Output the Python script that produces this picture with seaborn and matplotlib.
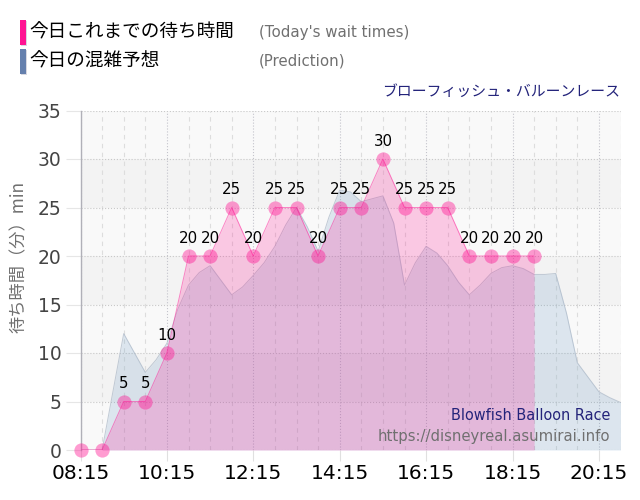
import matplotlib
matplotlib.use("Agg")
import matplotlib.pyplot as plt
import seaborn as sns
import pandas as pd
from matplotlib.patches import Rectangle
from matplotlib.ticker import FixedLocator

sns.set_theme(style="white")
plt.rcParams['font.family'] = ['DejaVu Sans', 'Noto Sans CJK JP']
JP = ['Noto Sans CJK JP', 'DejaVu Sans']

wait_times = ["08:15","08:45","09:15","09:45","10:15","10:45","11:15","11:45","12:15","12:45","13:15",
              "13:45","14:15","14:45","15:15","15:45","16:15","16:45","17:15","17:45","18:15","18:45"]
wait_values = [0,0,5,5,10,20,20,25,20,25,25,20,25,25,30,25,25,25,20,20,20,20]
wait_labels = ["","","5","5","10","20","20","25","20","25","25","20","25","25","30","25","25","25","20","20","20","20"]

pred_times = ["08:15","08:30","08:45","09:00","09:15","09:30","09:45","10:00","10:15","10:30","10:45","11:00",
              "11:15","11:30","11:45","12:00","12:15","12:30","12:45","13:00","13:15","13:30","13:45","14:00",
              "14:15","14:30","14:45","15:00","15:15","15:30","15:45","16:00","16:15","16:30","16:45","17:00",
              "17:15","17:30","17:45","18:00","18:15","18:30","18:45","19:00","19:15","19:30","19:45","20:00",
              "20:15","20:30","20:45"]
pred_values = [0,0,0,6,12,10,8,9.3,11,14.5,17,18.3,
               19,17.5,16,16.8,18,19.3,21,23.2,25,23,20.5,24,
               26.8,26.6,25.6,25.9,26.2,23.4,17,19.3,21,20.3,19,17.3,
               16,17,18.2,18.8,19,18.7,18.1,18.1,18.2,14.1,9,7.5,
               6,5.4,4.9]

x_ticks = ["08:15","10:15","12:15","14:15","16:15","18:15","20:15"]
y_ticks = [0,5,10,15,20,25,30,35]
band_starts = [5,15,25]

legend_jp = ["今日これまでの待ち時間", "今日の混雑予想"]
legend_en = ["(Today's wait times)", "(Prediction)"]
title_jp = "ブローフィッシュ・バルーンレース"
title_en = "Blowfish Balloon Race"
url = "https://disneyreal.asumirai.info"
ylabel = "待ち時間（分）min"

PINK = "#ff1493"
BLUE = "#5f93c0"
NAVY = "#23237a"

def hrs(t):
    h, m = t.split(":")
    return int(h) + int(m) / 60

wait = pd.DataFrame({"t": [hrs(t) for t in wait_times], "v": wait_values})
pred = pd.DataFrame({"t": [hrs(t) for t in pred_times], "v": pred_values})

fig = plt.figure(figsize=(6.4, 5.0), dpi=100)
ax = fig.add_axes([80.5/640, 50/500, 540/640, 339.5/500])
ax.set_xlim(hrs("08:15"), hrs("20:45"))
ax.set_ylim(0, 35)
ax.set_facecolor("#f9f9f9")

for lo in band_starts:
    ax.axhspan(lo, lo + 5, color="#f3f3f3", lw=0, zorder=0)

ax.set_xticks([hrs(t) for t in x_ticks])
ax.set_xticklabels(x_ticks, fontsize=14.5, color="black")
ax.xaxis.set_minor_locator(FixedLocator([hrs("08:15") + i * 0.5 for i in range(26)]))
ax.set_yticks(y_ticks)
ax.set_yticklabels([str(v) for v in y_ticks], fontsize=13.5, color="#444444")
ax.tick_params(axis="x", which="major", length=8, width=0.8, color="#e0e0e0", pad=2, bottom=True)
ax.tick_params(axis="x", which="minor", length=0)
ax.tick_params(axis="y", which="major", length=11, width=0.8, color="#e6e6e6", pad=2.5, left=True)
ax.grid(True, axis="y", which="major", ls=":", lw=0.8, color="#c8c8c8", zorder=1)
ax.grid(True, axis="x", which="minor", ls=(0, (4, 4)), lw=0.8, color="#dddddd", zorder=1)
ax.grid(True, axis="x", which="major", ls=":", lw=0.8, color="#c4c4cc", zorder=1)
ax.set_axisbelow(True)

for s in ["top", "right", "bottom"]:
    ax.spines[s].set_visible(False)
ax.spines["left"].set_color("#b0b0b8")
ax.spines["left"].set_linewidth(1)

ax.fill_between(pred["t"], pred["v"], 0, color=BLUE, alpha=0.19, lw=0, zorder=2)
sns.lineplot(data=pred, x="t", y="v", color="#a9b6c6", lw=0.7, alpha=0.7, ax=ax, zorder=3, errorbar=None)
ax.fill_between(wait["t"], wait["v"], 0, color=PINK, alpha=0.21, lw=0, zorder=4)
sns.lineplot(data=wait, x="t", y="v", color=PINK, lw=0.7, alpha=0.5, ax=ax, zorder=5, errorbar=None)
sns.scatterplot(data=wait, x="t", y="v", color=PINK, s=105, alpha=0.42, linewidth=0, ax=ax, zorder=6, clip_on=False)

for t, v, lab in zip(wait["t"], wait["v"], wait_labels):
    if lab:
        ax.annotate(lab, (t, v), xytext=(0, 7.5), textcoords="offset points", ha="center", va="bottom",
                    fontsize=10.8, color="black", zorder=7)

ax.set_xlabel("")
ax.set_ylabel("")

fig.text(19/640, 1 - 257/500, ylabel, rotation=90, ha="center", va="center", fontsize=12.4,
         color="#707070", family=JP)

for y, c in zip([32.5, 61.5], [PINK, "#6580ad"]):
    fig.add_artist(Rectangle((21/640, 1 - (y + 13.5)/500), 6/640, 25/500, transform=fig.transFigure,
                             color="#d8d8e0", lw=0))
    fig.add_artist(Rectangle((20/640, 1 - (y + 12.5)/500), 6/640, 25/500, transform=fig.transFigure,
                             color=c, lw=0))
for y, jp, en in zip([33, 62], legend_jp, legend_en):
    fig.text(29/640, 1 - y/500, jp, ha="left", va="center", fontsize=13.4, color="black", family=JP)
    fig.text(259/640, 1 - (y - 1)/500, en, ha="left", va="center", fontsize=10.85, color="#707070")

fig.text(620/640, 1 - 92/500, title_jp, ha="right", va="center", fontsize=10.7, color=NAVY, family=JP)
fig.text(610.5/640, 1 - 416/500, title_en, ha="right", va="center", fontsize=10.45, color=NAVY, zorder=10)
fig.text(610.5/640, 1 - 436.5/500, url, ha="right", va="center", fontsize=10.75, color="#707070", zorder=10)

fig.savefig("out.png", dpi=100)
